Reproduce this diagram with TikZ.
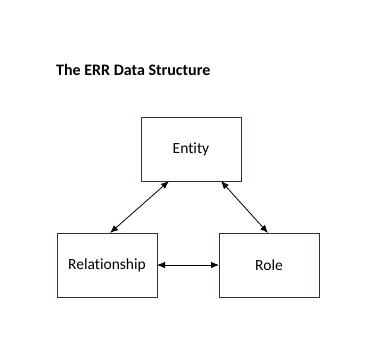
\documentclass[tikz,border=0pt]{standalone}
\usepackage{fontspec}
\setmainfont[Ligatures={NoCommon,NoRare}]{Carlito}
\usepackage{tikz}
\usetikzlibrary{arrows.meta,positioning}
\definecolor{errnavy}{HTML}{1F3556}

\begin{document}
\begin{tikzpicture}[
 x=1pt,y=1pt,
 node distance=62pt,
 b/.style={draw=errnavy,line width=0.9pt,fill=white,align=center,minimum width=100pt,minimum height=64pt,inner sep=0pt,outer sep=0pt,font=\fontsize{15.5}{18}\selectfont},
 a/.style={{Latex[length=8pt,width=6.5pt]}-{Latex[length=8pt,width=6.5pt]},line width=0.8pt}
]
\useasboundingbox (0,0) rectangle (379,-353);
\node[anchor=base west,font=\fontsize{16}{19}\selectfont\bfseries,inner sep=0pt] (title) at (56,-75) {The ERR Data Structure};
\node[b] (entity) at (191,-149) {Entity};
\node[b] (rel) at (107,-265) {Relationship};
\node[b,right=of rel] (role) {Role};
\draw[a] ([xshift=53pt]rel.north west) -- ([xshift=28pt]entity.south west);
\draw[a] ([xshift=-20pt]entity.south east) -- ([xshift=49pt]role.north west);
\draw[a] (rel.east) -- (role.west);
\end{tikzpicture}
\end{document}
